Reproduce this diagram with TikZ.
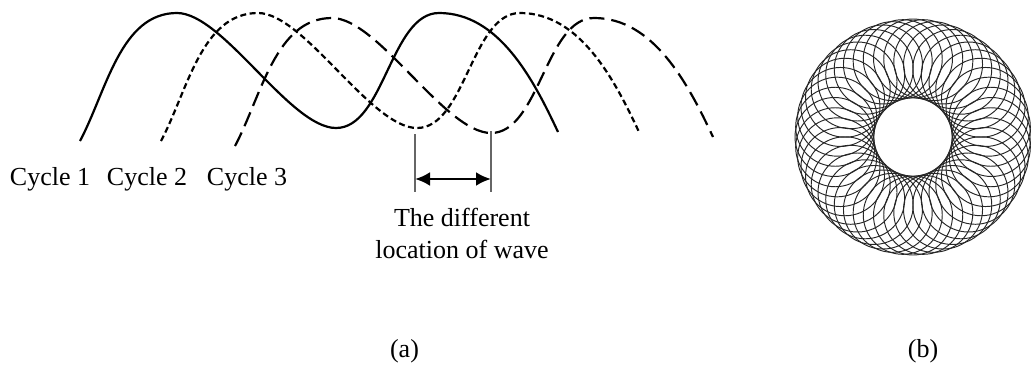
\documentclass[tikz,border=0pt]{standalone}
\usepackage{fontspec}
\setmainfont{Liberation Serif}
\usetikzlibrary{arrows.meta}
\begin{document}
\begin{tikzpicture}[x=1pt,y=1pt,
  wave/.style={line width=2.2pt, line cap=butt},
  dashA/.style={wave, dash pattern=on 6pt off 3.5pt},
  dashB/.style={wave, dash pattern=on 15pt off 7pt},
  lbl/.style={font=\fontsize{26}{31}\selectfont, inner sep=0pt, anchor=base},
  guide/.style={line width=1.1pt, draw=black!60},
  dimarrow/.style={line width=2.8pt, {Latex[length=15pt,width=14pt]}-{Latex[length=15pt,width=14pt]}},
  ring/.style={line width=0.95pt, draw=black!85}]
\useasboundingbox (0,0) rectangle (1031,368);

% three cycles of the wave
\foreach \dx/\dy/\st in {0/0/wave, 81/0/dashA, 155/-5/dashB}
  \draw[\st, shift={(\dx,\dy)}]
    (80,227) to[out=62,in=180,looseness=0.9] (177,355)
    to[out=0,in=180,looseness=0.6] (336,240)
    to[out=0,in=180,looseness=0.8] (439,355)
    to[out=0,in=115,looseness=0.9] (558,236);

% labels
\node[lbl] (c1) at (50,183) {Cycle 1};
\node[lbl] (c2) at (147,183) {Cycle 2};
\node[lbl] (c3) at (247,183) {Cycle 3};
\node[lbl] (t1) at (462,142) {The different};
\node[lbl] (t2) at (462,110) {location of wave};
\node[lbl] (la) at (404.5,11) {(a)};
\node[lbl] (lb) at (923,11) {(b)};

% dimension lines
\coordinate (g1t) at (415,234); \coordinate (g1b) at (415,176);
\coordinate (g2t) at (491,237); \coordinate (g2b) at (491,176);
\draw[guide] (g1t) -- (g1b);
\draw[guide] (g2t) -- (g2b);
\coordinate (ar1) at (415,189); \coordinate (ar2) at (491,189);
\draw[dimarrow] (ar1) -- (ar2);

% ring of circles
\coordinate (C) at (913,231);
\foreach \a in {0,7.5,...,352.5}
  \draw[ring] (C) ++(\a:78.5) circle[radius=39.5];
\end{tikzpicture}
\end{document}
